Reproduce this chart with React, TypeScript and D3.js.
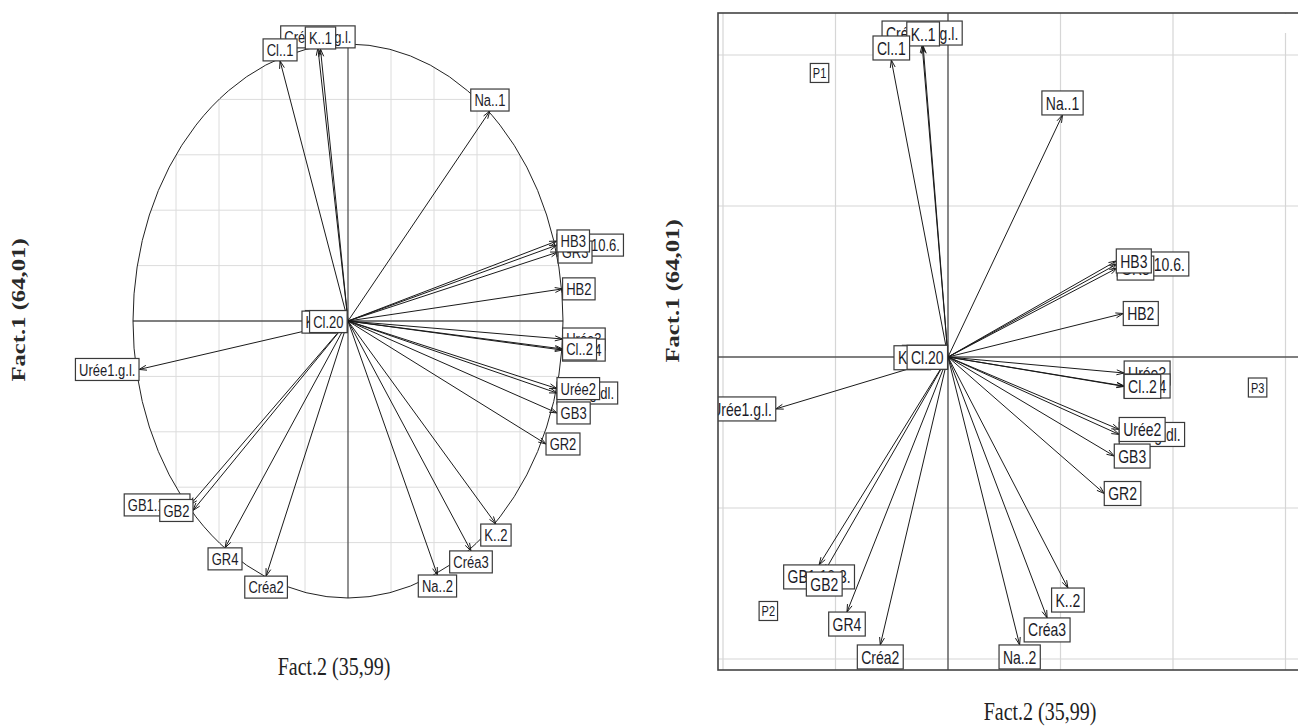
import React from 'react';
import * as d3 from 'd3';

const LABEL_FONT = "'Liberation Sans', Arial, sans-serif";
const TITLE_FONT = "'Liberation Serif', 'Times New Roman', serif";
// glyphs are drawn taller than wide, as in the exported figure
const STRETCH = 1.3;

// Variables, in drawing order (later labels sit on top of earlier ones)
const variables = [
  'Créa1.mg.l.', 'K..1', 'Cl..1', 'Na..1', 'GR1.10.6.', 'GR3', 'HB3', 'HB2',
  'Urée3', 'Urée4', 'Cl..2', 'HB1.g.dl.', 'Urée2', 'GB3', 'GR2', 'K..2',
  'Créa3', 'Na..2', 'Créa2', 'GR4', 'GB1.10.3.', 'GB2', 'Urée1.g.l.',
  'Na.20', 'K.20', 'Cl.20',
];

// Correlation circle: coordinates on Fact.2 (horizontal) and Fact.1 (vertical)
const circleFact2 = [
  -0.14, -0.128, -0.316, 0.66, 0.972, 0.977, 0.972, 0.998,
  0.998, 0.998, 0.998, 0.972, 0.972, 0.972, 0.921, 0.688,
  0.572, 0.416, -0.381, -0.572, -0.735, -0.721, -0.972,
  -0.003, -0.056, -0.004,
];
const circleFact1 = [
  0.986, 0.982, 0.939, 0.758, 0.274, 0.249, 0.289, 0.116,
  -0.065, -0.105, -0.101, -0.26, -0.244, -0.332, -0.444, -0.733,
  -0.83, -0.917, -0.921, -0.819, -0.664, -0.684, -0.175,
  -0.002, -0.004, -0.002,
];

// Biplot: variable arrows on the factorial plane
const biplotFact2 = [
  -0.23, -0.221, -0.504, 1.018, 1.504, 1.504, 1.496, 1.558,
  1.566, 1.566, 1.566, 1.522, 1.522, 1.478, 1.389, 1.066,
  0.881, 0.637, -0.602, -0.898, -1.146, -1.1, -1.531,
  -0.004, -0.155, -0.004,
];
const biplotFact1 = [
  2.066, 2.06, 1.967, 1.603, 0.616, 0.589, 0.636, 0.288,
  -0.106, -0.192, -0.195, -0.513, -0.48, -0.656, -0.904, -1.53,
  -1.728, -1.907, -1.907, -1.689, -1.377, -1.424, -0.344,
  -0.002, -0.005, -0.002,
];

// Individuals
const individuals = ['P1', 'P2', 'P3'];
const indFact2 = [-1.142, -1.597, 2.752];
const indFact1 = [1.881, -1.682, -0.202];

const titleX = 'Fact.2 (35,99)';
const titleY = 'Fact.1 (64,01)';

const circleGridStep = 0.2;
const biplotGridX = [-2, -1, 1, 2, 3];
const biplotGridY = [-2, -1, 1, 2];

let measureCtx: CanvasRenderingContext2D | null = null;
function textWidth(s: string, size: number): number {
  if (!measureCtx) measureCtx = document.createElement('canvas').getContext('2d');
  measureCtx!.font = `${size}px ${LABEL_FONT}`;
  return measureCtx!.measureText(s).width;
}

type Placed = { name: string; cx: number; cy: number; w: number; px: number; py: number };

// ade4-style placement: label box pushed outward from the arrow tip
function placeArrowLabels(
  names: string[], xs: number[], ys: number[],
  sx: (v: number) => number, sy: (v: number) => number,
  size: number, yh: number,
): Placed[] {
  return names.map((name, i) => {
    const x = xs[i], y = ys[i];
    const px = sx(x), py = sy(y);
    const w = textWidth(` ${name} `, size);
    let cx = px, cy = py;
    if (x > y && x > -y) cx = px + w / 2;
    else if (x > y && x <= -y) cy = py + yh;
    else if (x < y && x < -y) cx = px - w / 2;
    else cy = py - yh;
    return { name, cx, cy, w, px, py };
  });
}

function arrowPath(x0: number, y0: number, x1: number, y1: number): string {
  const len = 8, ang = Math.PI / 10;
  const a = Math.atan2(y1 - y0, x1 - x0);
  const l = Math.hypot(x1 - x0, y1 - y0);
  let d = `M${x0},${y0}L${x1},${y1}`;
  if (l > 10) {
    d += `M${x1 - len * Math.cos(a - ang)},${y1 - len * Math.sin(a - ang)}L${x1},${y1}` +
      `L${x1 - len * Math.cos(a + ang)},${y1 - len * Math.sin(a + ang)}`;
  }
  return d;
}

function LabelBox({ p, yh, size }: { p: { name: string; cx: number; cy: number; w: number }; yh: number; size: number }) {
  return (
    <g>
      <rect x={p.cx - p.w / 2} y={p.cy - yh} width={p.w} height={2 * yh}
        fill="#fff" stroke="#3a3a3a" strokeWidth={1.2} />
      <text transform={`translate(${p.cx},${p.cy}) scale(1,${STRETCH})`}
        textAnchor="middle" dy="0.36em" fontSize={size} fontFamily={LABEL_FONT} fill="#1c1c28">
        {p.name}
      </text>
    </g>
  );
}

function VTitle({ x, y, text }: { x: number; y: number; text: string }) {
  return (
    <text transform={`translate(${x},${y}) scale(1,${STRETCH}) rotate(-90)`}
      textAnchor="middle" dy="0.35em" fontSize={19} fontWeight="bold"
      fontFamily={TITLE_FONT} fill="#2a2a2a">{text}</text>
  );
}

function HTitle({ x, y, text }: { x: number; y: number; text: string }) {
  return (
    <text transform={`translate(${x},${y}) scale(1,${STRETCH})`}
      textAnchor="middle" dy="0.35em" fontSize={20}
      fontFamily={TITLE_FONT} fill="#222">{text}</text>
  );
}

function CorrelationCircle() {
  const sx = d3.scaleLinear().domain([-1, 1]).range([133, 563]);
  const sy = d3.scaleLinear().domain([-1, 1]).range([598, 44]);
  const cx = sx(0), cy = sy(0);
  const rx = sx(1) - sx(0), ry = sy(-1) - sy(0);
  const ticks = d3.range(-1 + circleGridStep, 1 - 1e-9, circleGridStep).filter((v) => Math.abs(v) > 1e-6);
  const yh = 11, size = 13;
  const placed = placeArrowLabels(variables, circleFact2, circleFact1, sx, sy, size, yh);

  return (
    <g>
      <g stroke="#dcdcdc" strokeWidth={1}>
        {ticks.map((v) => {
          const h = Math.sqrt(1 - v * v);
          return (
            <g key={`g${v.toFixed(2)}`}>
              <line x1={sx(v)} x2={sx(v)} y1={sy(-h)} y2={sy(h)} />
              <line x1={sx(-h)} x2={sx(h)} y1={sy(v)} y2={sy(v)} />
            </g>
          );
        })}
      </g>
      <line x1={sx(-1)} x2={sx(1)} y1={cy} y2={cy} stroke="#555" strokeWidth={1.3} />
      <line x1={cx} x2={cx} y1={sy(1)} y2={sy(-1)} stroke="#555" strokeWidth={1.3} />
      <ellipse cx={cx} cy={cy} rx={rx} ry={ry} fill="none" stroke="#222" strokeWidth={1} />
      <g stroke="#1a1a1a" strokeWidth={1} fill="none">
        {placed.map((p) => <path key={`a${p.name}`} d={arrowPath(cx, cy, p.px, p.py)} />)}
      </g>
      {placed.map((p) => <LabelBox key={`l${p.name}`} p={p} yh={yh} size={size} />)}
      <VTitle x={18} y={310} text={titleY} />
      <HTitle x={334} y={666} text={titleX} />
    </g>
  );
}

function Biplot() {
  const sx = d3.scaleLinear().domain([0, 1]).range([948, 1060.5]);
  const sy = d3.scaleLinear().domain([0, 1]).range([357, 206]);
  const left = 718, top = 13, bottom = 670, right = 1310;
  const cx = sx(0), cy = sy(0);
  const yh = 12, size = 14;
  const placed = placeArrowLabels(variables, biplotFact2, biplotFact1, sx, sy, size, yh);
  const indYh = 9.5, indSize = 11;
  const inds = individuals.map((name, i) => ({
    name, cx: sx(indFact2[i]), cy: sy(indFact1[i]),
    w: textWidth(name, indSize) + 5,
  }));

  return (
    <g>
      <defs>
        <clipPath id="biplot-frame">
          <rect x={left} y={top} width={right - left} height={bottom - top} />
        </clipPath>
      </defs>
      <g clipPath="url(#biplot-frame)">
        <g stroke="#d6d6d6" strokeWidth={1.2}>
          {biplotGridX.map((k) => <line key={`vx${k}`} x1={sx(k)} x2={sx(k)} y1={top} y2={bottom} />)}
          {biplotGridY.map((k) => <line key={`hy${k}`} x1={left} x2={right} y1={sy(k)} y2={sy(k)} />)}
        </g>
        <rect x={1262} y={top + 1} width={50} height={19} fill="#fff" />
        <line x1={left} x2={right} y1={cy} y2={cy} stroke="#555" strokeWidth={1.4} />
        <line x1={cx} x2={cx} y1={top} y2={bottom} stroke="#555" strokeWidth={1.4} />
        <g stroke="#1a1a1a" strokeWidth={1} fill="none">
          {placed.map((p) => <path key={`a${p.name}`} d={arrowPath(cx, cy, p.px, p.py)} />)}
        </g>
        {inds.map((p) => <LabelBox key={`i${p.name}`} p={p} yh={indYh} size={indSize} />)}
        {placed.map((p) => <LabelBox key={`l${p.name}`} p={p} yh={yh} size={size} />)}
      </g>
      <rect x={left} y={top} width={right - left} height={bottom - top}
        fill="none" stroke="#444" strokeWidth={1.6} />
      <VTitle x={672} y={291} text={titleY} />
      <HTitle x={1040} y={711} text={titleX} />
    </g>
  );
}

export default function App() {
  return (
    <svg width={1298} height={727} viewBox="0 0 1298 727"
      style={{ position: 'absolute', left: 0, top: 0, background: '#fff' }}>
      <rect x={0} y={0} width={1298} height={727} fill="#fff" />
      <CorrelationCircle />
      <Biplot />
    </svg>
  );
}
